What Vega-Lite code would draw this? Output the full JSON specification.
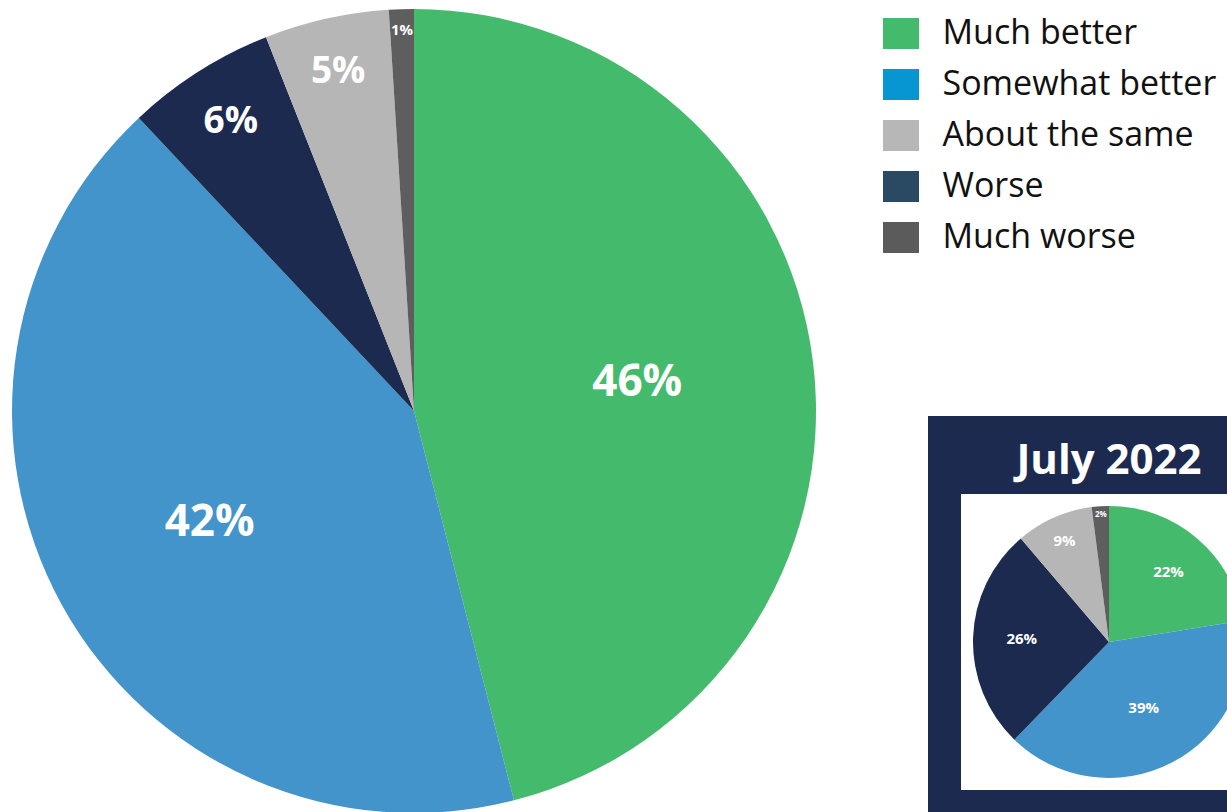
{
  "$schema": "https://vega.github.io/schema/vega-lite/v6.json",
  "background": "white",
  "padding": 0,
  "spacing": 100,
  "bounds": "flush",
  "datasets": {
    "now": [
      {"response": "Much better", "share": 0.46, "rank": 1},
      {"response": "Somewhat better", "share": 0.42, "rank": 2},
      {"response": "Worse", "share": 0.06, "rank": 3},
      {"response": "About the same", "share": 0.05, "rank": 4},
      {"response": "Much worse", "share": 0.01, "rank": 5}
    ],
    "july2022": [
      {"response": "Much better", "share": 0.22, "rank": 1},
      {"response": "Somewhat better", "share": 0.39, "rank": 2},
      {"response": "Worse", "share": 0.26, "rank": 3},
      {"response": "About the same", "share": 0.09, "rank": 4},
      {"response": "Much worse", "share": 0.02, "rank": 5}
    ],
    "panel": [{"panel": "July 2022"}]
  },
  "resolve": {"scale": {"size": "independent"}},
  "hconcat": [
    {
      "width": 828,
      "height": 822,
      "data": {"name": "now"},
      "layer": [
        {
          "mark": {"type": "arc", "outerRadius": 402, "strokeWidth": 0},
          "encoding": {
            "theta": {"field": "share", "type": "quantitative", "stack": true},
            "order": {"field": "rank", "type": "quantitative"},
            "fill": {
              "field": "response",
              "type": "nominal",
              "scale": {
                "domain": ["Much better", "Somewhat better", "Worse", "About the same", "Much worse"],
                "range": ["#44BB6C", "#4394CB", "#1B2A4E", "#B6B6B6", "#5E5E5E"]
              },
              "legend": null
            },
            "stroke": {
              "field": "response",
              "type": "nominal",
              "scale": {
                "domain": ["Much better", "Somewhat better", "About the same", "Worse", "Much worse"],
                "range": ["#44BB6C", "#0796D1", "#B7B7B7", "#2A4A63", "#5B5B5B"]
              },
              "legend": {
                "title": null,
                "orient": "none",
                "legendX": 867.5,
                "legendY": 0,
                "padding": 0,
                "symbolType": "M-1,0H1",
                "symbolSize": 1296,
                "symbolStrokeWidth": 31,
                "symbolFillColor": "transparent",
                "labelFont": "Open Sans",
                "labelFontSize": 34,
                "labelColor": "#111111",
                "labelOffset": 8,
                "labelLimit": 400,
                "rowPadding": -8,
                "encode": {
                  "symbols": {
                    "update": {
                      "strokeJoin": {"value": "bevel"},
                      "strokeCap": {"value": "butt"},
                      "strokeOpacity": {"value": 1}
                    }
                  }
                }
              }
            }
          }
        },
        {
          "mark": {"type": "text", "font": "Open Sans", "fontWeight": "bold", "color": "white"},
          "encoding": {
            "theta": {"field": "share", "type": "quantitative", "stack": true},
            "order": {"field": "rank", "type": "quantitative"},
            "radius": {
              "field": "share",
              "type": "quantitative",
              "scale": {"type": "sqrt", "domain": [0.01, 0.46], "range": [381, 225], "zero": false, "nice": false}
            },
            "size": {
              "field": "share",
              "type": "quantitative",
              "scale": {"type": "threshold", "domain": [0.02, 0.1], "range": [15, 37, 44]},
              "legend": null
            },
            "text": {"field": "share", "type": "quantitative", "format": ".0%"}
          }
        }
      ]
    },
    {
      "spacing": 0,
      "bounds": "flush",
      "vconcat": [
        {
          "width": 362,
          "height": 416,
          "data": {"values": []},
          "mark": "point"
        },
        {
          "width": 362,
          "height": 452,
          "view": {"fill": "#1B2A4E", "stroke": null},
          "title": {
            "text": "July 2022",
            "color": "white",
            "font": "Open Sans",
            "fontSize": 42,
            "fontWeight": "bold",
            "baseline": "alphabetic",
            "anchor": "middle",
            "offset": -100
          },
          "layer": [
            {
              "data": {"name": "panel"},
              "mark": {"type": "point", "shape": "square", "size": 87616, "filled": true, "color": "white", "opacity": 1, "strokeWidth": 0}
            },
            {
              "data": {"name": "july2022"},
              "mark": {"type": "arc", "outerRadius": 136, "strokeWidth": 0},
              "encoding": {
                "theta": {"field": "share", "type": "quantitative", "stack": true},
                "order": {"field": "rank", "type": "quantitative"},
                "fill": {"field": "response", "type": "nominal", "legend": null}
              }
            },
            {
              "data": {"name": "july2022"},
              "mark": {"type": "text", "font": "Open Sans", "fontWeight": "bold", "color": "white"},
              "encoding": {
                "theta": {"field": "share", "type": "quantitative", "stack": true},
                "order": {"field": "rank", "type": "quantitative"},
                "radius": {
                  "field": "share",
                  "type": "quantitative",
                  "scale": {"type": "sqrt", "domain": [0.02, 0.39], "range": [127, 75], "zero": false, "nice": false}
                },
                "size": {
                  "field": "share",
                  "type": "quantitative",
                  "scale": {"type": "threshold", "domain": [0.05], "range": [8, 15]},
                  "legend": null
                },
                "text": {"field": "share", "type": "quantitative", "format": ".0%"}
              }
            }
          ]
        }
      ]
    }
  ],
  "config": {
    "view": {"stroke": null},
    "font": "Open Sans"
  }
}
